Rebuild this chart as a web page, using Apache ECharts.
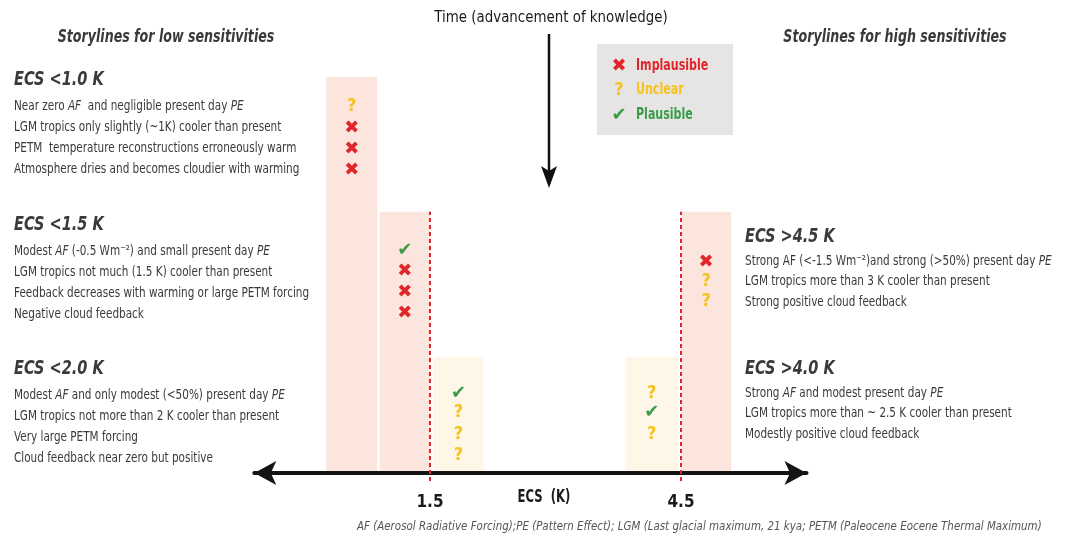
<!DOCTYPE html>
<html><head><meta charset="utf-8">
<script src="https://cdn.jsdelivr.net/npm/echarts@6/dist/echarts.min.js"></script>
<style>html,body{margin:0;padding:0;background:#fff}#c{width:1073px;height:540px}</style>
</head><body><div id="c"></div>
<script>
// ---------- data ----------
const storylineNames = ['ECS <1.0 K', 'ECS <1.5 K', 'ECS <2.0 K', 'ECS >4.0 K', 'ECS >4.5 K'];
const barStart  = [0.26, 0.90, 1.54, 3.84, 4.50];   // ECS (K)
const barEnd    = [0.87, 1.50, 2.14, 4.46, 5.10];
const barLevel  = [100, 66, 29.3, 29.3, 66];        // time (advancement of knowledge), relative
const barKind   = ['low', 'low', 'mid', 'mid', 'low'];
// ratings: x = implausible, ? = unclear, v = plausible
const ratings = [
  ['?', 'x', 'x', 'x'],
  ['v', 'x', 'x', 'x'],
  ['v', '?', '?', '?'],
  ['?', 'v', '?'],
  ['x', '?', '?']
];
const ratingLevels = [
  [92.7, 87.1, 81.8, 76.5],
  [56.3, 51.0, 45.7, 40.4],
  [20.2, 15.2, 9.8, 4.5],
  [20.2, 15.2, 9.8],
  [53.3, 48.5, 43.4]
];
const tickValues = [1.5, 4.5];
const thresholdLevel = 66;
const descLow = [
  ['Near zero {i|AF}  and negligible present day {i|PE}',
   'LGM tropics only slightly (~1K) cooler than present',
   'PETM  temperature reconstructions erroneously warm',
   'Atmosphere dries and becomes cloudier with warming'],
  ['Modest {i|AF} (-0.5 Wm⁻²) and small present day {i|PE}',
   'LGM tropics not much (1.5 K) cooler than present',
   'Feedback decreases with warming or large PETM forcing',
   'Negative cloud feedback'],
  ['Modest {i|AF} and only modest (<50%) present day {i|PE}',
   'LGM tropics not more than 2 K cooler than present',
   'Very large PETM forcing',
   'Cloud feedback near zero but positive']
];
const descHigh = [
  ['Strong AF (<-1.5 Wm⁻²)and strong (>50%) present day {i|PE}',
   'LGM tropics more than 3 K cooler than present',
   'Strong positive cloud feedback'],
  ['Strong {i|AF} and modest present day {i|PE}',
   'LGM tropics more than ~ 2.5 K cooler than present',
   'Modestly positive cloud feedback']
];
const headLow = ['ECS <1.0 K', 'ECS <1.5 K', 'ECS <2.0 K'];
const headHigh = ['ECS >4.5 K', 'ECS >4.0 K'];
const legendNames = ['Implausible', 'Unclear', 'Plausible'];

// ---------- styles ----------
const FONT = "'DejaVu Sans Condensed','DejaVu Sans',sans-serif";
const GLYPH = "'DejaVu Sans',sans-serif";
const TXT = '#3a3a3a';
const RED = '#e0262b', YEL = '#f6c21c', GRN = '#3a9c48';
const glyphOf = {x: '✖', '?': '?', v: '✔'};
const colorOf = {x: RED, '?': YEL, v: GRN};
const fontOf = {x: 'bold 18px ' + GLYPH, '?': 'bold 18px ' + FONT, v: 'bold 18px ' + GLYPH};

const chart = echarts.init(document.getElementById('c'), null, {renderer: 'canvas'});

// marker series
function markerData(kind) {
  const out = [];
  ratings.forEach((r, i) => {
    const cx = (barStart[i] + barEnd[i]) / 2;
    r.forEach((k, j) => { if (k === kind) out.push([cx, ratingLevels[i][j]]); });
  });
  return out;
}
const markerSeries = ['x', '?', 'v'].map(k => ({
  type: 'scatter', symbolSize: 0, z: 5,
  itemStyle: {opacity: 1},
  data: markerData(k),
  label: {show: true, position: 'inside', formatter: glyphOf[k], color: colorOf[k], textBorderWidth: 0, opacity: 1,
    fontFamily: k === '?' ? FONT : GLYPH, fontWeight: 'bold', fontSize: 18}
}));

// graphic texts
const g = [];
function txt(x, y, text, font, fill, align, sx, rich) {
  g.push({type: 'text', x: x, y: y, scaleX: sx || 1, silent: true,
    style: {text: text, font: font, fill: fill, textAlign: align || 'left', textVerticalAlign: 'middle', rich: rich}});
}
const richI = {i: {fontStyle: 'italic', fontSize: 14, fontFamily: FONT, fill: TXT}};
const headYLow = [80, 225, 369];
headLow.forEach((h, i) => {
  txt(14, headYLow[i], h, 'italic bold 19px ' + FONT, TXT, 'left', 0.85);
  descLow[i].forEach((d, j) => txt(14, headYLow[i] + 26 + j * 21, d, '14px ' + FONT, TXT, 'left', 0.83, richI));
});
const headYHigh = [237, 369];
headHigh.forEach((h, i) => {
  txt(745, headYHigh[i], h, 'italic bold 19px ' + FONT, TXT, 'left', 0.85);
  descHigh[i].forEach((d, j) => txt(745, headYHigh[i] + 24 + j * 20.5, d, '14px ' + FONT, TXT, 'left', 0.83, richI));
});
txt(166, 37, 'Storylines for low sensitivities', 'italic bold 18px ' + FONT, TXT, 'center', 0.78);
txt(895, 37, 'Storylines for high sensitivities', 'italic bold 18px ' + FONT, TXT, 'center', 0.78);
txt(551, 18, 'Time (advancement of knowledge)', '16px ' + FONT, '#1a1a1a', 'center', 0.93);
txt(544, 498, 'ECS  (K)', 'bold 17px ' + FONT, '#1a1a1a', 'center', 0.76);
txt(357, 527, 'AF (Aerosol Radiative Forcing);PE (Pattern Effect); LGM (Last glacial maximum, 21 kya; PETM (Paleocene Eocene Thermal Maximum)',
  'italic 13px ' + FONT, '#555', 'left', 0.88);
// time arrow
g.push({type: 'line', silent: true, shape: {x1: 549, y1: 34, x2: 549, y2: 175}, style: {stroke: '#111', lineWidth: 2.5}});
g.push({type: 'polygon', silent: true, shape: {points: [[541, 166], [549, 188], [557, 166], [549, 171]]}, style: {fill: '#111'}});
// legend box
g.push({type: 'rect', silent: true, shape: {x: 597, y: 44, width: 136, height: 91}, style: {fill: '#e6e5e4'}});
const legKinds = ['x', '?', 'v'];
legendNames.forEach((n, i) => {
  const y = 66 + i * 24.5;
  txt(619, y, glyphOf[legKinds[i]], fontOf[legKinds[i]], colorOf[legKinds[i]], 'center');
  txt(636, y, n, 'bold 15px ' + FONT, colorOf[legKinds[i]], 'left', 0.82);
});

const option = {
  backgroundColor: '#fff',
  animation: false,
  grid: {left: 254.3, right: 266.5, top: 77, bottom: 67},
  xAxis: {
    type: 'value', min: -0.6, max: 6.0,
    axisLine: {show: true, symbol: ['arrow', 'arrow'], symbolSize: [18, 22],
      lineStyle: {color: '#141414', width: 4}},
    axisTick: {show: false},
    splitLine: {show: false},
    axisLabel: {show: true, customValues: tickValues, margin: 21,
      formatter: v => v.toFixed(1), fontFamily: FONT, fontWeight: 'bold', fontSize: 17, color: '#1a1a1a'}
  },
  yAxis: {type: 'value', min: 0, max: 100, show: false},
  series: [
    {
      type: 'custom', z: 1,
      data: barStart.map((s, i) => [s, barEnd[i], barLevel[i], barKind[i] === 'low' ? 0 : 1]),
      renderItem: (params, api) => {
        const p0 = api.coord([api.value(0), api.value(2)]);
        const p1 = api.coord([api.value(1), 0]);
        return {type: 'rect', shape: {x: p0[0], y: p0[1], width: p1[0] - p0[0], height: p1[1] - p0[1] - 2},
          style: {fill: api.value(3) === 0 ? '#fbe5dd' : '#fef7e7'}};
      }
    },
    {type: 'line', z: 3, clip: false, symbol: 'none', data: [[tickValues[0], -2], [tickValues[0], thresholdLevel]],
      lineStyle: {color: RED, width: 2, type: [4, 3]}},
    {type: 'line', z: 3, clip: false, symbol: 'none', data: [[tickValues[1], -2], [tickValues[1], thresholdLevel]],
      lineStyle: {color: RED, width: 2, type: [4, 3]}},
    ...markerSeries
  ],
  graphic: g
};
chart.setOption(option);
</script></body></html>
